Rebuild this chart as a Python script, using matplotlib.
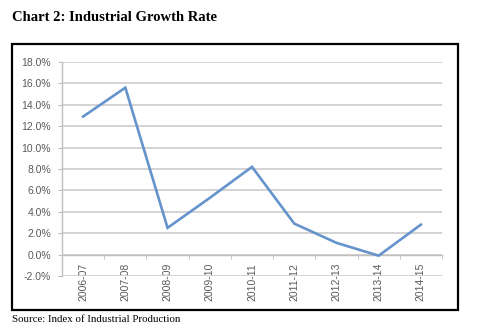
import matplotlib.pyplot as plt
from matplotlib.patches import Rectangle
from matplotlib.ticker import FuncFormatter, FixedLocator

years = ['2006-07', '2007-08', '2008-09', '2009-10', '2010-11',
         '2011-12', '2012-13', '2013-14', '2014-15']
growth = [12.9, 15.6, 2.5, 5.3, 8.2, 2.9, 1.1, -0.1, 2.8]
y_ticks = [-2, 0, 2, 4, 6, 8, 10, 12, 14, 16, 18]

W, H = 500, 336
fig = plt.figure(figsize=(W / 100, H / 100), dpi=100)

# outer chart frame
fig.patches.append(Rectangle((12 / W, 1 - 310 / H), 446 / W, 266 / H,
                             transform=fig.transFigure, fill=False,
                             edgecolor='black', linewidth=1.6))

ax = fig.add_axes([62 / W, 1 - 276 / H, 380 / W, 214 / H])
x = list(range(len(years)))
ax.plot(x, growth, color='#6593CC', linewidth=1.9, solid_joinstyle='miter', zorder=3)

ax.set_ylim(-2, 18)
ax.set_xlim(-0.5, len(years) - 0.5)
ax.set_yticks(y_ticks)
ax.yaxis.set_major_formatter(FuncFormatter(lambda v, p: f'{v:.1f}%'))
ax.grid(axis='y', color='#D3D3D3', linewidth=1.4)
ax.set_axisbelow(True)

ax.set_xticks(x)
ax.set_xticklabels(years)
ax.xaxis.set_minor_locator(FixedLocator([i - 0.5 for i in range(len(years) + 1)]))

for s in ['top', 'right']:
    ax.spines[s].set_visible(False)
ax.spines['bottom'].set_position(('data', 0))
ax.spines['bottom'].set_color('#BFBFBF')
ax.spines['left'].set_color('#BFBFBF')
ax.spines['bottom'].set_linewidth(1.0)
ax.spines['left'].set_linewidth(1.0)

ax.tick_params(axis='x', which='major', length=0, pad=6, labelrotation=90,
               labelsize=7.5, labelcolor='#595959')
ax.tick_params(axis='x', which='minor', length=3, color='#BFBFBF')
ax.tick_params(axis='y', length=3, color='#BFBFBF', pad=5,
               labelsize=7.5, labelcolor='#595959')
for lab in ax.get_xticklabels() + ax.get_yticklabels():
    lab.set_family('Liberation Sans')

fig.text(12 / W, 1 - 21 / H, 'Chart 2: Industrial Growth Rate',
         family='Liberation Serif', fontweight='bold', fontsize=10.5, color='black')
fig.text(12 / W, 1 - 322 / H, 'Source: Index of Industrial Production',
         family='Liberation Serif', fontsize=7.8, color='black')

fig.savefig('out.png', dpi=100)
